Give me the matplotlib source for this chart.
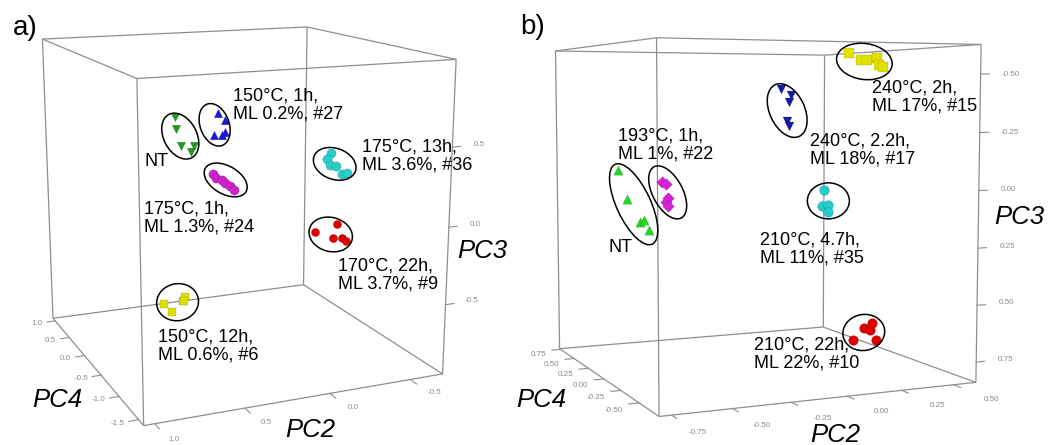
import numpy as np
import matplotlib.pyplot as plt
from matplotlib.patches import Ellipse

plt.rcParams['font.family'] = ['Liberation Sans', 'DejaVu Sans']

W, H = 1052, 445

# ---------------- panel a: PCA scores (PC2, PC3, PC4) per treatment ----------------
A_GROUPS = ['NT', '#27', '#24', '#36', '#9', '#6']
A_PC2 = {
    'NT': [0.41, 0.40, 0.37, 0.29, 0.31],
    '#27': [0.21, 0.17, 0.24, 0.19, 0.17],
    '#24': [0.11, 0.09, 0.05, 0.03, 0.00, -0.03],
    '#36': [-0.36, -0.34, -0.36, -0.40, -0.44, -0.47],
    '#9': [-0.17, -0.31, -0.28, -0.34, -0.37],
    '#6': [0.38, 0.32, 0.25, 0.23, 0.24],
}
A_PC3 = {
    'NT': [0.54, 0.46, 0.34, 0.33, 0.29],
    '#27': [0.59, 0.54, 0.44, 0.44, 0.46],
    '#24': [0.09, 0.06, 0.04, 0.02, -0.01, -0.04],
    '#36': [0.34, 0.30, 0.26, 0.25, 0.19, 0.19],
    '#9': [-0.12, -0.08, -0.17, -0.18, -0.20],
    '#6': [-0.89, -0.96, -0.89, -0.86, -0.89],
}
A_PC4 = {
    'NT': [0.3, 0.3, 0.3, 0.3, 0.3],
    '#27': [0.0, 0.0, 0.0, 0.0, 0.0],
    '#24': [0.5, 0.5, 0.5, 0.5, 0.5, 0.5],
    '#36': [-0.5, -0.5, -0.5, -0.5, -0.5, -0.5],
    '#9': [-0.8, -0.8, -0.8, -0.8, -0.8],
    '#6': [0.8, 0.8, 0.8, 0.8, 0.8],
}
A_LABELS = {
    'NT': 'NT',
    '#27': '150°C, 1h,\nML 0.2%, #27',
    '#24': '175°C, 1h,\nML 1.3%, #24',
    '#36': '175°C, 13h,\nML 3.6%, #36',
    '#9': '170°C, 22h,\nML 3.7%, #9',
    '#6': '150°C, 12h,\nML 0.6%, #6',
}
A_RANGE = {'PC2': (1.06, -0.71), 'PC3': (-0.96, 1.03), 'PC4': (-1.62, 1.08)}
A_TICKS = {'PC2': [1.0, 0.5, 0.0, -0.5], 'PC3': [0.5, 0.0, -0.5],
           'PC4': [1.0, 0.5, 0.0, -0.5, -1.0, -1.5]}

# ---------------- panel b ----------------
B_GROUPS = ['NT', '#22', '#17', '#15', '#35', '#10']
B_PC2 = {
    'NT': [-0.67, -0.63, -0.57, -0.55, -0.53],
    '#22': [-0.40, -0.38, -0.37, -0.38, -0.37],
    '#17': [0.03, 0.08, 0.07, 0.06, 0.07],
    '#15': [0.27, 0.33, 0.36, 0.41, 0.42, 0.44],
    '#35': [0.15, 0.14, 0.17, 0.17],
    '#10': [0.20, 0.25, 0.28, 0.29, 0.31],
}
B_PC3 = {
    'NT': [-0.07, 0.06, 0.17, 0.16, 0.21],
    '#22': [0.00, 0.01, 0.08, 0.10, 0.12],
    '#17': [-0.44, -0.41, -0.38, -0.29, -0.27],
    '#15': [-0.60, -0.57, -0.57, -0.58, -0.55, -0.54],
    '#35': [0.02, 0.09, 0.09, 0.12],
    '#10': [0.68, 0.63, 0.64, 0.61, 0.69],
}
B_PC4 = {
    'NT': [0.2, 0.2, 0.2, 0.2, 0.2],
    '#22': [0.4, 0.4, 0.4, 0.4, 0.4],
    '#17': [0.0, 0.0, 0.0, 0.0, 0.0],
    '#15': [-0.2, -0.2, -0.2, -0.2, -0.2, -0.2],
    '#35': [-0.2, -0.2, -0.2, -0.2],
    '#10': [-0.4, -0.4, -0.4, -0.4, -0.4],
}
B_LABELS = {
    'NT': 'NT',
    '#22': '193°C, 1h,\nML 1%, #22',
    '#17': '240°C, 2.2h,\nML 18%, #17',
    '#15': '240°C, 2h,\nML 17%, #15',
    '#35': '210°C, 4.7h,\nML 11%, #35',
    '#10': '210°C, 22h,\nML 22%, #10',
}
B_RANGE = {'PC2': (-0.80, 0.61), 'PC3': (0.84, -0.625), 'PC4': (-0.75, 0.77)}
B_TICKS = {'PC2': [-0.75, -0.50, -0.25, 0.00, 0.25, 0.50],
           'PC3': [-0.50, -0.25, 0.00, 0.25, 0.50, 0.75],
           'PC4': [0.75, 0.50, 0.25, 0.00, -0.25, -0.50]}

# ---------------- styling / layout ----------------
A_STYLE = {
    'NT': dict(marker='v', c='#229a22', s=38),
    '#27': dict(marker='^', c='#1818e0', s=38),
    '#24': dict(marker='o', c='#cc22cc', s=46),
    '#36': dict(marker='o', c='#2ccccc', s=46),
    '#9': dict(marker='o', c='#dd0000', s=36),
    '#6': dict(marker='s', c='#dede00', s=34),
}
B_STYLE = {
    'NT': dict(marker='^', c='#22d622', s=46),
    '#22': dict(marker='D', c='#d822d8', s=36),
    '#17': dict(marker='v', c='#1a1aa8', s=42),
    '#15': dict(marker='s', c='#e2e200', s=42),
    '#35': dict(marker='o', c='#22cccc', s=50),
    '#10': dict(marker='o', c='#dd0000', s=50),
}
# ellipse: (width, height, angle, dx, dy) in pixels around the group centre
A_ELL = {'NT': (49, 33, 62, -3, -2), '#27': (44, 29, 70, -6, -2), '#24': (47, 28, 30, 2, -2),
         '#36': (44, 31, 20, -1, -1), '#9': (44, 34, 15, -4, 0), '#6': (42, 37, -10, 0, -1)}
A_TXT = {'NT': (157, 162, 'center'), '#27': (233, 105, 'left'), '#24': (144, 218, 'left'),
         '#36': (362, 156, 'left'), '#9': (338, 275, 'left'), '#6': (158, 346, 'left')}
B_ELL = {'NT': (88, 34, 65, -2, -4), '#22': (58, 30, 62, 1.5, -2), '#17': (57, 35, 65, -0.5, 4),
         '#15': (56, 36, 8, -5, 1), '#35': (42, 36, 0, 3, -2.5), '#10': (42, 36, -10, -3, 0)}
B_TXT = {'NT': (621, 248, 'center'), '#22': (618, 145, 'left'), '#17': (810, 150, 'left'),
         '#15': (872, 97, 'left'), '#35': (760, 249, 'left'), '#10': (754, 354, 'left')}

BOX = '#8e8e8e'
TICKC = '#8a8a8a'


def camera(azim, elev, dist, focal, cx, cy):
    """Perspective view of the unit box [-1,1]^3 -> figure pixels."""
    th, ph = np.radians(azim), np.radians(elev)

    def project(u, v, w):
        u, v, w = (np.asarray(a, float) for a in (u, v, w))
        xr = u * np.cos(th) - v * np.sin(th)
        yr = u * np.sin(th) + v * np.cos(th)
        up = w * np.cos(ph) + yr * np.sin(ph)
        dep = yr * np.cos(ph) - w * np.sin(ph)
        s = focal / (dist + dep)
        return cx + s * xr, cy - s * up
    return project


def to_box(vals, rng):
    lo, hi = rng
    return -1 + 2 * (np.asarray(vals, float) - lo) / (hi - lo)


def draw_panel(ax, cam, rng, ticks, fmt, off, groups, pc2, pc3, pc4, style, ell, labels, txt):
    # cube edges
    corners = [(u, v, w) for u in (-1, 1) for v in (-1, 1) for w in (-1, 1)]
    for i, c1 in enumerate(corners):
        for c2 in corners[i + 1:]:
            if sum(a != b for a, b in zip(c1, c2)) == 1:
                x, y = cam(*np.array([c1, c2]).T)
                ax.plot(x, y, color=BOX, lw=0.9, zorder=1, solid_capstyle='butt')

    tl = 0.06
    # PC2 along front-bottom edge, ticks toward the viewer
    for t in ticks['PC2']:
        u = to_box(t, rng['PC2'])
        x, y = cam([u, u], [-1, -1 - tl * 1.3], [-1, -1])
        ax.plot(x, y, color=BOX, lw=0.8, zorder=1)
        lx, ly = cam(u + off['PC2'][0], -1 - off['PC2'][1], -1)
        ax.text(lx, ly, fmt.format(t), fontsize=5.8, color=TICKC, ha='center', va='center')
    # PC4 along left-bottom edge
    for t in ticks['PC4']:
        v = to_box(t, rng['PC4'])
        x, y = cam([-1, -1 - tl], [v, v], [-1, -1])
        ax.plot(x, y, color=BOX, lw=0.8, zorder=1)
        lx, ly = cam(-1 - off['PC4'][0], v, -1 - off['PC4'][1])
        ax.text(lx, ly, fmt.format(t), fontsize=5.8, color=TICKC, ha='center', va='center')
    # PC3 along front-right vertical edge
    for t in ticks['PC3']:
        w = to_box(t, rng['PC3'])
        x, y = cam([1, 1 + tl], [-1, -1], [w, w])
        ax.plot(x, y, color=BOX, lw=0.8, zorder=1)
        lx, ly = cam(1 + off['PC3'], -1, w)
        ax.text(lx, ly, fmt.format(t), fontsize=5.8, color=TICKC, ha='center', va='center')

    for g in groups:
        x, y = cam(to_box(pc2[g], rng['PC2']), to_box(pc4[g], rng['PC4']), to_box(pc3[g], rng['PC3']))
        st = style[g]
        ax.scatter(x, y, marker=st['marker'], s=st['s'], color=st['c'],
                   edgecolors='#00000040', linewidths=0.3, zorder=3)
        ew, eh, ea, dx, dy = ell[g]
        ax.add_patch(Ellipse((x.mean() + dx, y.mean() + dy), ew, eh, angle=ea, fill=False,
                             ec='black', lw=1.1, zorder=4))
        tx, ty, ha = txt[g]
        ax.text(tx, ty, labels[g], fontsize=13, ha=ha, va='center', linespacing=1.15, zorder=5)


fig = plt.figure(figsize=(W / 100, H / 100), dpi=100)
ax = fig.add_axes([0, 0, 1, 1])
ax.set_xlim(0, W)
ax.set_ylim(H, 0)
ax.axis('off')

cam_a = camera(azim=23.08, elev=13.99, dist=8.095, focal=1232.9, cx=235.8, cy=200.9)
cam_b = camera(azim=23.92, elev=4.96, dist=7.95, focal=1262.7, cx=754.6, cy=207.9)

draw_panel(ax, cam_a, A_RANGE, A_TICKS, '{:.1f}',
           {'PC2': (0.03, 0.24), 'PC4': (0.13, 0.0), 'PC3': 0.19},
           A_GROUPS, A_PC2, A_PC3, A_PC4, A_STYLE, A_ELL, A_LABELS, A_TXT)
draw_panel(ax, cam_b, B_RANGE, B_TICKS, '{:.2f}',
           {'PC2': (0.0, 0.39), 'PC4': (0.15, 0.025), 'PC3': 0.21},
           B_GROUPS, B_PC2, B_PC3, B_PC4, B_STYLE, B_ELL, B_LABELS, B_TXT)

# axis titles and panel letters
for x, y, s in [(482, 251, 'PC3'), (57, 400, 'PC4'), (310, 430, 'PC2'),
                (1019, 217, 'PC3'), (541, 400, 'PC4'), (835, 435, 'PC2')]:
    ax.text(x, y, s, fontsize=18.5, style='italic', ha='center', va='center')
ax.text(25, 28, 'a)', fontsize=20, ha='center', va='center')
ax.text(533, 27, 'b)', fontsize=20, ha='center', va='center')

fig.savefig('out.png', dpi=100)
